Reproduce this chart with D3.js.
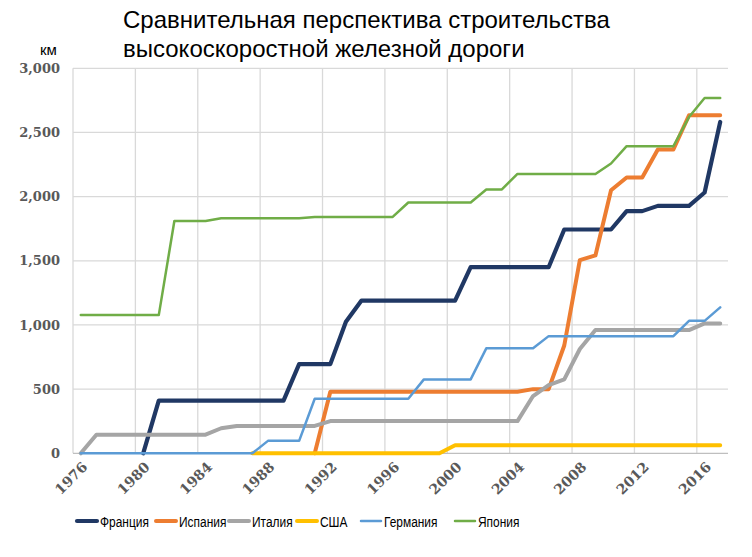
<!DOCTYPE html>
<html>
<head>
<meta charset="utf-8">
<script src="https://cdn.jsdelivr.net/npm/d3@7.9.0/dist/d3.min.js"></script>
<style>
  html, body { margin: 0; padding: 0; background: #fff; }
  svg { display: block; }
</style>
</head>
<body>
<div id="chart"></div>
<script>
// ---- data (km of high-speed rail in service) ----
const years = [1976, 1977, 1978, 1979, 1980, 1981, 1982, 1983, 1984, 1985,
    1986, 1987, 1988, 1989, 1990, 1991, 1992, 1993, 1994, 1995,
    1996, 1997, 1998, 1999, 2000, 2001, 2002, 2003, 2004, 2005,
    2006, 2007, 2008, 2009, 2010, 2011, 2012, 2013, 2014, 2015,
    2016, 2017];

const france = [null, null, null, null, 0, 410, 410, 410, 410, 410,
    410, 410, 410, 410, 695, 695, 695, 1025, 1190, 1190,
    1190, 1190, 1190, 1190, 1190, 1450, 1450, 1450, 1450, 1450,
    1450, 1744, 1744, 1744, 1744, 1887, 1887, 1928, 1928, 1928,
    2032, 2582];

const spain = [null, null, null, null, null, null, null, null, null, null,
    null, null, null, null, null, 0, 480, 480, 480, 480,
    480, 480, 480, 480, 480, 480, 480, 480, 480, 500,
    500, 840, 1505, 1542, 2050, 2149, 2149, 2367, 2367, 2634,
    2634, 2634];

const italy = [0, 145, 145, 145, 145, 145, 145, 145, 145, 195,
    213, 213, 213, 213, 213, 213, 251, 251, 251, 251,
    251, 251, 251, 251, 251, 251, 251, 251, 251, 446,
    532, 576, 813, 960, 960, 960, 960, 960, 960, 960,
    1012, 1012];

const usa = [null, null, null, null, null, null, null, null, null, null,
    null, 0, 0, 0, 0, 0, 0, 0, 0, 0,
    0, 0, 0, 0, 62, 62, 62, 62, 62, 62,
    62, 62, 62, 62, 62, 62, 62, 62, 62, 62,
    62, 62];

const germany = [0, 0, 0, 0, 0, 0, 0, 0, 0, 0,
    0, 0, 97, 97, 97, 425, 425, 425, 425, 425,
    425, 425, 576, 576, 576, 576, 818, 818, 818, 818,
    913, 913, 913, 913, 913, 913, 913, 913, 913, 1032,
    1032, 1137];

const japan = [1077, 1077, 1077, 1077, 1077, 1077, 1810, 1810, 1810, 1832,
    1832, 1832, 1832, 1832, 1832, 1842, 1842, 1842, 1842, 1842,
    1842, 1954, 1954, 1954, 1954, 1954, 2056, 2056, 2177, 2177,
    2177, 2177, 2177, 2177, 2258, 2393, 2393, 2393, 2393, 2620,
    2769, 2769];

const seriesNames = ['Франция', 'Испания', 'Италия', 'США', 'Германия', 'Япония'];
const seriesValues = [france, spain, italy, usa, germany, japan];
const yTicks = [0, 500, 1000, 1500, 2000, 2500, 3000];

// ---- style ----
const COLORS = ['#203864', '#ed7d31', '#a5a5a5', '#ffc000', '#5b9bd5', '#70ad47'];
const WIDTHS = [4.2, 4, 4, 4, 2.5, 2.5];
const GRID_COLOR = '#d9d9d9';
const LABEL_COLOR = '#595959';
const LEGEND_X = [77, 156, 229, 297, 361, 455];

const width = 752, height = 557;
const margin = { top: 68.3, right: 24, bottom: 103.7, left: 73 };

const svg = d3.select('#chart')
    .append('svg')
    .attr('width', width)
    .attr('height', height)
    .attr('viewBox', `0 0 ${width} ${height}`);

const x = d3.scaleBand()
    .domain(years)
    .range([margin.left, width - margin.right])
    .paddingInner(0)
    .paddingOuter(0);

const y = d3.scaleLinear()
    .domain([0, 3000])
    .range([height - margin.bottom, margin.top]);

const cx = yr => x(yr) + x.bandwidth() / 2;

// Title
svg.append('text')
    .attr('x', 123)
    .attr('font-family', 'Liberation Sans, Arial, sans-serif')
    .attr('font-size', '24px')
    .attr('fill', '#000')
    .selectAll('tspan')
    .data(['Сравнительная перспектива строительства', 'высокоскоростной железной дороги'])
    .join('tspan')
    .attr('x', 123)
    .attr('y', (_, i) => 28 + i * 29)
    .text(d => d);

// Unit label
svg.append('text')
    .attr('x', 40)
    .attr('y', 55)
    .attr('font-family', 'Liberation Sans, Arial, sans-serif')
    .attr('font-size', '15px')
    .attr('fill', '#000')
    .text('км');

// Horizontal gridlines
svg.append('g')
    .selectAll('line')
    .data(yTicks.filter(d => d > 0))
    .join('line')
    .attr('x1', margin.left)
    .attr('x2', width - margin.right)
    .attr('y1', d => y(d))
    .attr('y2', d => y(d))
    .attr('stroke', GRID_COLOR)
    .attr('stroke-width', 1.3);

// Vertical gridlines at every 4th category boundary
const labelYears = years.filter((_, i) => i % 4 === 0);
svg.append('g')
    .selectAll('line')
    .data(labelYears)
    .join('line')
    .attr('x1', d => x(d))
    .attr('x2', d => x(d))
    .attr('y1', margin.top)
    .attr('y2', y(0))
    .attr('stroke', GRID_COLOR)
    .attr('stroke-width', 1.3);

// Bottom axis line
svg.append('line')
    .attr('x1', margin.left)
    .attr('x2', width - margin.right)
    .attr('y1', y(0))
    .attr('y2', y(0))
    .attr('stroke', '#bfbfbf')
    .attr('stroke-width', 1.3);

// Y tick labels
svg.append('g')
    .selectAll('text')
    .data(yTicks)
    .join('text')
    .attr('x', 60)
    .attr('y', d => y(d))
    .attr('dy', '0.36em')
    .attr('text-anchor', 'end')
    .attr('font-family', 'DejaVu Serif, serif')
    .attr('font-size', '13px')
    .attr('font-weight', 'bold')
    .attr('fill', LABEL_COLOR)
    .text(d => d3.format(',')(d));

// X tick labels, rotated
svg.append('g')
    .selectAll('text')
    .data(labelYears)
    .join('text')
    .attr('transform', d => `translate(${cx(d) + 4},${y(0) + 11}) rotate(-45)`)
    .attr('text-anchor', 'end')
    .attr('dy', '0.36em')
    .attr('font-family', 'DejaVu Serif, serif')
    .attr('font-size', '14px')
    .attr('font-weight', 'bold')
    .attr('fill', LABEL_COLOR)
    .text(d => d);

// Lines
const line = d3.line()
    .defined(d => d.v != null)
    .x(d => cx(d.year))
    .y(d => y(d.v));

svg.append('g')
    .selectAll('path')
    .data(seriesValues.map((vals, i) => ({ i, pts: vals.map((v, j) => ({ year: years[j], v })) })))
    .join('path')
    .attr('d', d => line(d.pts))
    .attr('fill', 'none')
    .attr('stroke', d => COLORS[d.i])
    .attr('stroke-width', d => WIDTHS[d.i])
    .attr('stroke-linejoin', 'round')
    .attr('stroke-linecap', 'round');

// Legend
const legend = svg.append('g')
    .selectAll('g')
    .data(seriesNames)
    .join('g')
    .attr('transform', (_, i) => `translate(${LEGEND_X[i]},521)`);

legend.append('line')
    .attr('x1', 0)
    .attr('x2', 20)
    .attr('stroke', (_, i) => COLORS[i])
    .attr('stroke-width', (_, i) => WIDTHS[i])
    .attr('stroke-linecap', 'round');

// condensed legend labels, as in the original
legend.append('text')
    .attr('transform', 'translate(23,0) scale(0.77,1)')
    .attr('dy', '0.36em')
    .attr('font-family', 'Liberation Sans, Arial, sans-serif')
    .attr('font-size', '15.5px')
    .attr('fill', '#000')
    .text(d => d);
</script>
</body>
</html>
